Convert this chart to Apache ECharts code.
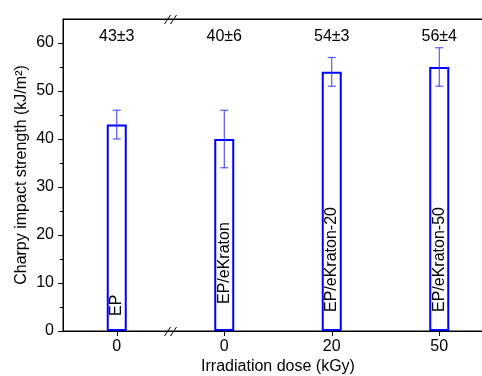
<!DOCTYPE html>
<html><head><meta charset="utf-8">
<script src="https://cdn.jsdelivr.net/npm/echarts@6/dist/echarts.min.js"></script>
<style>html,body{margin:0;padding:0;background:#fff}#c{width:482px;height:376px}</style>
</head><body><div id="c"></div>
<script>
const doseLabels = ['0', '0', '20', '50'];
const sampleNames = ['EP', 'EP/eKraton', 'EP/eKraton-20', 'EP/eKraton-50'];
const impactValues = [43, 40, 54, 55];
const errLow = [40, 34, 51, 51];
const errHigh = [46, 46, 57, 59];
const annotations = ['43±3', '40±6', '54±3', '56±4'];
const yMajorTicks = [0, 10, 20, 30, 40, 50, 60];
const yMinorTicks = [5, 15, 25, 35, 45, 55];

// label gap (px) from the baseline for each in-bar sample name (layout only)
const labelGaps = [15, 27, 19, 19];

const FONT = "'Liberation Sans', Arial, sans-serif";
const chart = echarts.init(document.getElementById('c'), null, {renderer: 'canvas'});
const errData = impactValues.map((v, i) => [i, errLow[i], errHigh[i]]);
const barData = impactValues.map((v, i) => ({value: v, label: {distance: labelGaps[i]}}));

chart.setOption({
  animation: false,
  backgroundColor: '#fff',
  grid: {left: 63, top: 19, width: 430, bottom: 45, containLabel: false, outerBoundsMode: 'none',
         show: true, borderColor: '#000', borderWidth: 1, backgroundColor: 'rgba(0,0,0,0)'},
  xAxis: [{
    type: 'category', position: 'bottom', data: doseLabels,
    name: 'Irradiation dose (kGy)', nameLocation: 'middle', nameGap: 28, nameMoveOverlap: false,
    nameTextStyle: {fontFamily: FONT, fontSize: 16, color: '#000'},
    axisLine: {show: true, onZero: false, lineStyle: {color: '#000', width: 1}},
    axisTick: {show: true, alignWithLabel: true, length: 5, lineStyle: {color: '#000'}},
    axisLabel: {fontFamily: FONT, fontSize: 16, color: '#000', margin: 8},
    splitLine: {show: false}
  }, {
    type: 'category', position: 'top', data: annotations,
    axisLine: {show: true, onZero: false, lineStyle: {color: '#000', width: 1}},
    axisTick: {show: false},
    axisLabel: {inside: true, fontFamily: FONT, fontSize: 16, color: '#000', margin: 10},
    splitLine: {show: false}
  }],
  yAxis: [{
    type: 'value', min: 0, max: 65, interval: 10,
    name: 'Charpy impact strength (kJ/m²)', nameLocation: 'middle', nameGap: 33, nameMoveOverlap: false,
    nameTextStyle: {fontFamily: FONT, fontSize: 16, color: '#000'},
    axisLine: {show: true, onZero: false, lineStyle: {color: '#000', width: 1}},
    axisTick: {show: true, length: 5, customValues: yMajorTicks, lineStyle: {color: '#000'}},
    axisLabel: {fontFamily: FONT, fontSize: 16, color: '#000', margin: 9, customValues: yMajorTicks},
    splitLine: {show: false}
  }, {
    type: 'value', min: 0, max: 65, position: 'left',
    axisLine: {show: false, onZero: false},
    axisTick: {show: true, length: 3, customValues: yMinorTicks, lineStyle: {color: '#000'}},
    axisLabel: {show: false},
    splitLine: {show: false}
  }],
  series: [{
    type: 'bar', xAxisIndex: 0, yAxisIndex: 0, data: barData, barWidth: 20,
    itemStyle: {color: 'rgba(0,0,0,0)', borderColor: '#0000ff', borderWidth: 2},
    label: {
      show: true, position: 'insideBottom', rotate: 90, align: 'left', verticalAlign: 'middle',
      fontFamily: FONT, fontSize: 16, color: '#000',
      formatter: p => sampleNames[p.dataIndex]
    },
    z: 2
  }, {
    type: 'custom', xAxisIndex: 0, yAxisIndex: 0, data: errData, z: 3,
    renderItem: function (params, api) {
      const x = api.value(0);
      const pLo = api.coord([x, api.value(1)]);
      const pHi = api.coord([x, api.value(2)]);
      const hw = 4;
      const st = {stroke: '#3838ff', lineWidth: 1};
      return {type: 'group', children: [
        {type: 'line', shape: {x1: pLo[0], y1: pLo[1], x2: pHi[0], y2: pHi[1]}, style: st},
        {type: 'line', shape: {x1: pLo[0] - hw, y1: pLo[1], x2: pLo[0] + hw, y2: pLo[1]}, style: st},
        {type: 'line', shape: {x1: pHi[0] - hw, y1: pHi[1], x2: pHi[0] + hw, y2: pHi[1]}, style: st}
      ]};
    }
  }]
});

// axis break marks between the first two categories
const xa = chart.convertToPixel({xAxisIndex: 0}, 0);
const xb = chart.convertToPixel({xAxisIndex: 0}, 1);
const bx = (xa + xb) / 2;
const yTop = chart.convertToPixel({yAxisIndex: 0}, 65);
const yBot = chart.convertToPixel({yAxisIndex: 0}, 0);
const marks = [];
[yTop, yBot].forEach(y => {
  [-3, 3].forEach(dx => {
    marks.push({type: 'line', z: 10,
      shape: {x1: bx + dx - 3, y1: y + 5, x2: bx + dx + 3, y2: y - 4},
      style: {stroke: '#000', lineWidth: 1}});
  });
});
chart.setOption({graphic: marks});
</script></body></html>
